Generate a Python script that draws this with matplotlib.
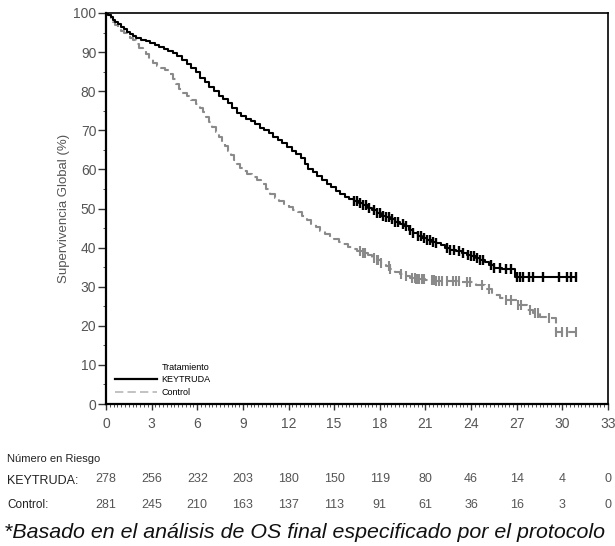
import numpy as np
import matplotlib
matplotlib.use("Agg")
import matplotlib.pyplot as plt
from matplotlib.ticker import MultipleLocator
from matplotlib.lines import Line2D
import matplotlib.transforms as mtransforms

# ---------------- data ----------------
key_t = [0, 0.15, 0.3, 0.45, 0.6, 0.8, 1.0, 1.2, 1.4, 1.6, 1.8, 2.0, 2.3, 2.6, 2.9,
         3.2, 3.5, 3.8, 4.1, 4.4, 4.7, 5.0, 5.3, 5.6, 5.9, 6.2, 6.5, 6.8, 7.1, 7.4,
         7.7, 8.0, 8.3, 8.6, 8.9, 9.2, 9.5, 9.8, 10.1, 10.4, 10.7, 11.0, 11.3, 11.6,
         11.9, 12.2, 12.5, 12.8, 13.1, 13.3, 13.6, 13.9, 14.2, 14.5, 14.8, 15.1,
         15.4, 15.7, 16.0, 16.3, 16.6, 16.9, 17.2, 17.5, 17.8, 18.1, 18.4, 18.7,
         19.0, 19.3, 19.6, 19.9, 20.2, 20.5, 20.8, 21.1, 21.4, 21.7, 22.0, 22.3,
         22.6, 23.0, 23.4, 23.7, 24.0, 24.3, 24.6, 24.9, 25.2, 25.5, 26.0, 26.9]
key_s = [100, 99.6, 99.0, 98.3, 97.8, 97.1, 96.4, 95.8, 95.2, 94.6, 94.2, 93.7, 93.2,
         92.8, 92.3, 91.8, 91.3, 90.9, 90.4, 89.8, 89.0, 88.1, 87.0, 85.9, 84.9,
         83.4, 82.3, 81.2, 80.0, 78.9, 78.1, 77.0, 75.8, 74.5, 73.6, 73.0, 72.4,
         71.7, 70.7, 70.0, 69.3, 68.4, 67.6, 66.8, 65.8, 64.8, 64.0, 62.9, 61.5,
         60.2, 59.3, 58.4, 57.2, 56.3, 55.5, 54.6, 53.7, 53.0, 52.4, 51.9, 51.4,
         50.8, 50.1, 49.5, 48.8, 48.2, 47.8, 47.2, 46.6, 46.0, 45.4, 44.6, 43.7,
         42.9, 42.5, 42.0, 41.5, 41.1, 40.6, 40.0, 39.5, 39.1, 38.6, 38.2, 37.8,
         37.4, 36.9, 36.3, 35.5, 34.8, 34.4, 32.6]
key_end = 30.9
key_cens = [16.3, 16.5, 16.7, 16.9, 17.1, 17.3, 17.6, 17.8, 18.0, 18.2, 18.4, 18.6,
            18.8, 19.0, 19.2, 19.5, 19.7, 20.0, 20.2, 20.5, 20.7, 20.9, 21.1, 21.3,
            21.5, 21.7, 22.4, 22.6, 22.9, 23.2, 23.5, 23.8, 24.0, 24.2, 24.4, 24.6,
            24.8, 25.3, 25.5, 25.9, 26.3, 26.6, 27.0, 27.2, 27.4, 27.8, 28.1, 28.7,
            29.8, 30.3, 30.6, 30.9]

ctl_t = [0, 0.15, 0.3, 0.45, 0.6, 0.8, 1.0, 1.2, 1.4, 1.6, 1.8, 2.0, 2.2, 2.4, 2.6,
         2.85, 3.1, 3.35, 3.6, 3.9, 4.2, 4.4, 4.6, 4.8, 5.0, 5.3, 5.6, 5.9, 6.2, 6.4,
         6.6, 6.8, 7.0, 7.2, 7.4, 7.6, 7.8, 8.0, 8.2, 8.4, 8.6, 8.8, 9.0, 9.3, 9.6,
         9.9, 10.2, 10.5, 10.8, 11.1, 11.4, 11.7, 12.0, 12.3, 12.6, 12.9, 13.2,
         13.5, 13.8, 14.1, 14.4, 14.7, 15.0, 15.3, 15.6, 15.9, 16.2, 16.5, 16.9,
         17.2, 17.5, 17.8, 18.1, 18.4, 18.7, 19.0, 19.3, 19.6, 20.0, 20.4, 21.0,
         21.6, 23.3, 24.3, 24.9, 25.4, 25.9, 26.3, 27.0, 27.7, 28.1, 28.5, 29.0,
         29.6]
ctl_s = [100, 99.4, 98.6, 97.8, 97.0, 96.2, 95.5, 94.9, 94.3, 93.7, 93.0, 92.0, 91.0,
         90.3, 89.5, 88.3, 87.1, 86.5, 86.0, 85.4, 84.4, 83.1, 81.8, 80.5, 79.6,
         78.8, 77.8, 76.8, 75.7, 74.6, 73.4, 72.2, 70.8, 69.6, 68.3, 67.0, 65.9,
         64.8, 63.6, 62.5, 61.4, 60.4, 59.6, 58.8, 58.0, 57.2, 56.2, 55.0, 53.8,
         52.8, 52.0, 51.2, 50.4, 49.7, 49.0, 48.0, 47.0, 46.1, 45.2, 44.3, 43.5,
         42.8, 42.1, 41.4, 40.8, 40.2, 39.6, 39.1, 38.6, 38.1, 37.4, 36.8, 36.1,
         35.4, 34.6, 33.8, 33.2, 32.7, 32.3, 31.9, 31.6, 31.4, 31.2, 30.4, 29.3,
         27.9, 27.2, 26.6, 25.3, 24.0, 23.2, 22.3, 22.0, 18.5]
ctl_end = 30.9
ctl_cens = [16.7, 16.9, 17.03, 17.6, 17.8, 17.9, 18.1, 18.6, 18.7, 19.4, 19.7,
            20.1, 20.3, 20.4, 20.5, 20.6, 20.75, 20.9, 21.4, 21.55, 21.7, 21.9,
            22.1, 22.4, 22.8, 23.0, 23.2, 23.7, 23.9, 24.7, 25.2, 26.3, 26.6, 27.1,
            27.3, 27.9, 28.2, 28.4, 29.1, 29.6, 30.0, 30.3, 30.9]

risk_times = [0, 3, 6, 9, 12, 15, 18, 21, 24, 27, 30, 33]
risk_key = [278, 256, 232, 203, 180, 150, 119, 80, 46, 14, 4, 0]
risk_ctl = [281, 245, 210, 163, 137, 113, 91, 61, 36, 16, 3, 0]

# ---------------- figure ----------------
W, H = 615, 546
fig = plt.figure(figsize=(W / 100, H / 100), dpi=100)
ax = fig.add_axes([106 / W, 1 - 404 / H, (608 - 106) / W, (404 - 13) / H])

gray_txt = "#555555"
ctl_col = "#8a8a8a"
FONT = "Liberation Sans"


def step_value(times, surv, t):
    idx = np.searchsorted(np.asarray(times), t, side="right") - 1
    return np.asarray(surv)[idx]


kt = list(key_t) + [key_end]
ks = list(key_s) + [key_s[-1]]
ct = list(ctl_t) + [ctl_end]
cs = list(ctl_s) + [ctl_s[-1]]

ax.plot(ct, cs, drawstyle="steps-post", color=ctl_col, lw=1.5,
        linestyle=(0, (5, 2.5)), zorder=3)
ax.plot(kt, ks, drawstyle="steps-post", color="black", lw=1.5, zorder=4)

ax.plot(ctl_cens, [step_value(ctl_t, ctl_s, t) for t in ctl_cens], linestyle="none",
        marker="|", markersize=7, mew=1.5, color=ctl_col, zorder=3)
ax.plot(key_cens, [step_value(key_t, key_s, t) for t in key_cens], linestyle="none",
        marker="|", markersize=7, mew=1.7, color="black", zorder=4)

ax.set_xlim(0, 33)
ax.set_ylim(0, 100)
ax.xaxis.set_major_locator(MultipleLocator(3))
ax.xaxis.set_minor_locator(MultipleLocator(0.25))
ax.yaxis.set_major_locator(MultipleLocator(10))
ax.yaxis.set_minor_locator(MultipleLocator(5))
ax.tick_params(axis="both", which="major", direction="out", length=5.5, width=1,
               labelsize=10, labelcolor=gray_txt, color="#333333")
ax.tick_params(axis="y", which="major", pad=1.5)
ax.tick_params(axis="x", which="major", length=4, pad=5.5)
ax.tick_params(axis="both", which="minor", direction="out", length=2.5, width=0.6,
               color="#333333")
for lab in ax.get_xticklabels() + ax.get_yticklabels():
    lab.set_fontfamily(FONT)

for s in ["left", "bottom"]:
    ax.spines[s].set_linewidth(1.6)
for s in ["top", "right"]:
    ax.spines[s].set_linewidth(1.2)

ax.set_ylabel("Supervivencia Global (%)", fontsize=9.5, color=gray_txt,
              family=FONT, labelpad=2)

# legend
handles = [Line2D([0], [0], color="black", lw=1.6),
           Line2D([0], [0], color="#b8b8b8", lw=1.2, linestyle=(0, (5, 2.5)))]
leg = ax.legend(handles, ["KEYTRUDA", "Control"], loc="upper left",
                bbox_to_anchor=(115 / W, 1 - 375 / H), bbox_transform=fig.transFigure,
                frameon=False, handlelength=4.6, handletextpad=0.55,
                labelspacing=0.45, borderpad=0, borderaxespad=0,
                prop={"family": FONT, "size": 6.5, "stretch": "condensed"})
ax.text(162 / W, 1 - 368 / H, "Tratamiento", transform=fig.transFigure,
        fontsize=6.5, family=FONT, va="center", ha="left")

# risk table
trans = mtransforms.blended_transform_factory(ax.transData, fig.transFigure)
fig.text(7 / W, 1 - 459 / H, "Número en Riesgo", fontsize=8, family=FONT,
         va="center", ha="left", color="#222222")
fig.text(7 / W, 1 - 481 / H, "KEYTRUDA:", fontsize=9, family=FONT,
         va="center", ha="left", color="#222222")
fig.text(7 / W, 1 - 505 / H, "Control:", fontsize=8.5, family=FONT,
         va="center", ha="left", color="#222222")
for t, a, b in zip(risk_times, risk_key, risk_ctl):
    ax.text(t, 1 - 479 / H, str(a), transform=trans, ha="center", va="center",
            fontsize=9, color=gray_txt, family=FONT, clip_on=False)
    ax.text(t, 1 - 505 / H, str(b), transform=trans, ha="center", va="center",
            fontsize=9, color=gray_txt, family=FONT, clip_on=False)

fig.text(4 / W, 1 - 533 / H,
         "*Basado en el análisis de OS final especificado por el protocolo",
         fontsize=15.4, style="italic", family=FONT, va="center",
         ha="left", color="#111111")

fig.savefig("out.png", dpi=100)
